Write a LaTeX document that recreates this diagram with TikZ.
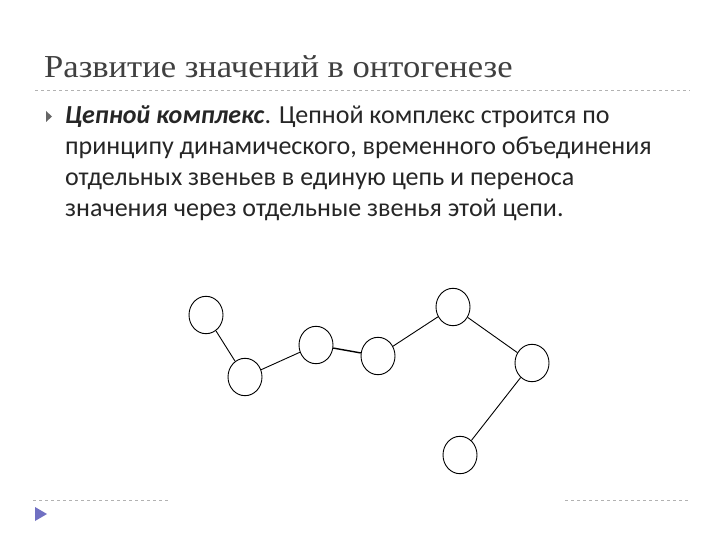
\documentclass[tikz,border=0pt]{standalone}
\usepackage{fontspec}
\setmainfont{Carlito}
\newfontfamily\titlefont{Liberation Serif}
\begin{document}
\begin{tikzpicture}[x=1pt,y=-1pt,
  link/.style={circle,draw=black,line width=0.9pt,minimum width=34pt,inner sep=0pt,yscale=1.1},
  edge/.style={line width=0.9pt},
  rule/.style={draw=gray!60,dashed,line width=0.6pt},
  body/.style={anchor=base west,inner sep=0pt,font=\fontsize{26}{30}\selectfont,text=black!85}]
\useasboundingbox[fill=white] (0,0) rectangle (720,540);
\node[anchor=base west,inner sep=0pt,font=\titlefont\fontsize{32}{34}\selectfont,text=black!75,xscale=1.08] (title) at (44,78) {Развитие значений в онтогенезе};
\draw[rule] (35,90) -- (690,90);
\fill[gray!80!black] (46,111) -- (52,116.5) -- (46,122) -- cycle;
\node[body] (l1) at (65,124) {\textbf{\textit{Цепной комплекс}}. Цепной комплекс строится по};
\node[body] (l2) at (65,155) {принципу динамического, временного объединения};
\node[body] (l3) at (65,186) {отдельных звеньев в единую цепь и переноса};
\node[body] (l4) at (65,217) {значения через отдельные звенья этой цепи.};
\node[link] (c1) at (206,315) {};
\node[link] (c2) at (245,377) {};
\node[link] (c3) at (316,345) {};
\node[link] (c4) at (378,356) {};
\node[link] (c5) at (453,307) {};
\node[link] (c6) at (532,363) {};
\node[link] (c7) at (460,455) {};
\draw[edge] (c1) -- (c2);
\draw[edge] (c2) -- (c3);
\draw[edge,line width=1.4pt] (c3) -- (c4);
\draw[edge] (c4) -- (c5);
\draw[edge] (c5) -- (c6);
\draw[edge] (c6) -- (c7);
\draw[rule] (33,500) -- (168,500);
\draw[rule] (565,500) -- (688,500);
\fill[blue!40!gray!80] (35,507) -- (47,514) -- (35,521) -- cycle;
\end{tikzpicture}
\end{document}
